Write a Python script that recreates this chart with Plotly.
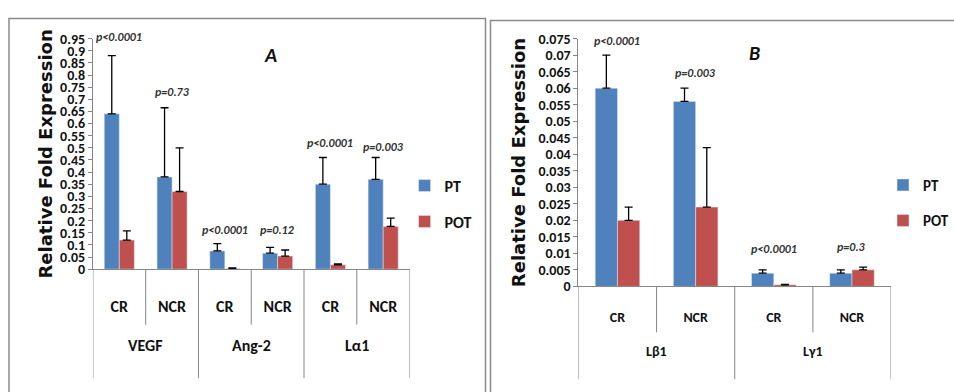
import plotly.graph_objects as go

# ---------------- data ----------------
groups_a = ["VEGF", "VEGF", "Ang-2", "Ang-2", "Lα1", "Lα1"]
subs_a = ["CR", "NCR", "CR", "NCR", "CR", "NCR"]
pt_a = [0.64, 0.38, 0.075, 0.066, 0.35, 0.37]
pt_a_err = [0.24, 0.285, 0.03, 0.024, 0.11, 0.09]
pot_a = [0.12, 0.32, 0.003, 0.054, 0.018, 0.176]
pot_a_err = [0.038, 0.18, 0.002, 0.025, 0.004, 0.034]
pvals_a = ["p<0.0001", "p=0.73", "p<0.0001", "p=0.12", "p<0.0001", "p=0.003"]

groups_b = ["Lβ1", "Lβ1", "Lγ1", "Lγ1"]
subs_b = ["CR", "NCR", "CR", "NCR"]
pt_b = [0.06, 0.056, 0.004, 0.004]
pt_b_err = [0.01, 0.004, 0.001, 0.001]
pot_b = [0.02, 0.024, 0.0005, 0.005]
pot_b_err = [0.004, 0.018, 0.0001, 0.0008]
pvals_b = ["p<0.0001", "p=0.003", "p<0.0001", "p=0.3"]

# layout positions of the p-value labels (in axis units) and extra pixel shifts
plabel_y_a = [0.95, 0.729, 0.162, 0.162, 0.52, 0.505]
plabel_shift_a = [2, 0, 0, 0, 0, 0]
plabel_y_b = [0.0744, 0.0646, 0.0113, 0.0119]

BLUE = "#4F81BD"
RED = "#C0504D"
AXIS = "#868686"
FONT = "Carlito, 'Liberation Sans Narrow', Lato, sans-serif"

cats_a = [f"{g} {s}" for g, s in zip(groups_a, subs_a)]
cats_b = [f"{g} {s}" for g, s in zip(groups_b, subs_b)]

fig = go.Figure()


def err(vals):
    return dict(type="data", array=vals, arrayminus=[0] * len(vals), symmetric=False,
                color="black", thickness=1.3, width=4)


fig.add_trace(go.Bar(x=cats_a, y=pt_a, name="PT", marker_color=BLUE, error_y=err(pt_a_err),
                     xaxis="x", yaxis="y", legend="legend", legendgroup="a1"))
fig.add_trace(go.Bar(x=cats_a, y=pot_a, name="POT", marker_color=RED, error_y=err(pot_a_err),
                     xaxis="x", yaxis="y", legend="legend", legendgroup="a2"))
fig.add_trace(go.Bar(x=cats_b, y=pt_b, name="PT", marker_color=BLUE, error_y=err(pt_b_err),
                     xaxis="x2", yaxis="y2", legend="legend2", legendgroup="b1"))
fig.add_trace(go.Bar(x=cats_b, y=pot_b, name="POT", marker_color=RED, error_y=err(pot_b_err),
                     xaxis="x2", yaxis="y2", legend="legend2", legendgroup="b2"))

W, H = 954, 392


def px_x(v):
    return v / W


def px_y(v):
    return (H - v) / H


ytick_font = dict(family=FONT, size=14, color="#111", weight="bold")
ytitle_font = dict(family="DejaVu Sans", size=18, color="#111", weight="bold")

fig.update_layout(
    width=W, height=H, margin=dict(l=0, r=0, t=0, b=0),
    paper_bgcolor="white", plot_bgcolor="white",
    barmode="group", bargap=0.43, bargroupgap=0,
    xaxis=dict(domain=[px_x(93), px_x(410)], type="category", categoryarray=cats_a,
               tickmode="array", tickvals=cats_a, ticktext=subs_a,
               showline=True, linecolor=AXIS, linewidth=1, ticks="", showgrid=False,
               tickfont=dict(family=FONT, size=16, color="#111", weight="bold"),
               ticklabelstandoff=23, anchor="y", range=[-0.5, 5.5]),
    yaxis=dict(domain=[px_y(273), px_y(32)], range=[0, 0.95], dtick=0.05, tick0=0,
               showline=True, linecolor=AXIS, linewidth=1, ticks="outside", ticklen=4,
               tickcolor=AXIS, showgrid=False, zeroline=False, tickfont=ytick_font,
               title=dict(text="Relative Fold Expression", font=ytitle_font, standoff=2),
               anchor="x"),
    xaxis2=dict(domain=[px_x(579), px_x(892)], type="category", categoryarray=cats_b,
                tickmode="array", tickvals=cats_b, ticktext=subs_b,
                showline=True, linecolor=AXIS, linewidth=1, ticks="", showgrid=False,
                tickfont=dict(family=FONT, size=14, color="#111", weight="bold"),
                ticklabelstandoff=18, anchor="y2", range=[-0.5, 3.5]),
    yaxis2=dict(domain=[px_y(291), px_y(32)], range=[0, 0.075], dtick=0.005, tick0=0,
                showline=True, linecolor=AXIS, linewidth=1, ticks="outside", ticklen=4,
                tickcolor=AXIS, showgrid=False, zeroline=False, tickfont=ytick_font,
                title=dict(text="Relative Fold Expression", font=ytitle_font, standoff=8),
                anchor="x2"),
    legend=dict(x=px_x(405), y=px_y(168), xanchor="left", yanchor="top",
                font=dict(family=FONT, size=16, color="#111", weight="bold"),
                tracegroupgap=12, bgcolor="rgba(0,0,0,0)", itemwidth=30),
    legend2=dict(x=px_x(884), y=px_y(168), xanchor="left", yanchor="top",
                 font=dict(family=FONT, size=15, color="#111", weight="bold"),
                 tracegroupgap=13, bgcolor="rgba(0,0,0,0)", itemwidth=30),
)

shapes = []
# panel borders
shapes.append(dict(type="rect", xref="paper", yref="paper", x0=px_x(9), x1=px_x(486),
                   y0=-0.05, y1=px_y(11), line=dict(color="#8a8a8a", width=1.5)))
shapes.append(dict(type="rect", xref="paper", yref="paper", x0=px_x(491), x1=1.05,
                   y0=-0.05, y1=px_y(13), line=dict(color="#8a8a8a", width=1.5)))

# category dividers panel A
n_a = len(cats_a)
for i in range(n_a + 1):
    b = i - 0.5
    is_group = (i == 0 or i == n_a or groups_a[i] != groups_a[i - 1])
    shapes.append(dict(type="line", xref="x", yref="paper", x0=b, x1=b,
                       y0=px_y(273), y1=px_y(387 if is_group else 331),
                       line=dict(color=AXIS, width=1)))
# category dividers panel B
n_b = len(cats_b)
for i in range(n_b + 1):
    b = i - 0.5
    is_group = (i == 0 or i == n_b or groups_b[i] != groups_b[i - 1])
    shapes.append(dict(type="line", xref="x2", yref="paper", x0=b, x1=b,
                       y0=px_y(291), y1=px_y(388 if is_group else 339),
                       line=dict(color=AXIS, width=1)))
fig.update_layout(shapes=shapes)

ann = []


def group_centers(groups):
    seen = []
    for g in groups:
        if g not in seen:
            seen.append(g)
    out = []
    for g in seen:
        idx = [i for i, gg in enumerate(groups) if gg == g]
        out.append((g, sum(idx) / len(idx)))
    return out


for g, c in group_centers(groups_a):
    ann.append(dict(text=g, x=c, y=px_y(365), xref="x", yref="paper", showarrow=False,
                    font=dict(family=FONT, size=16, color="#111", weight="bold")))
for g, c in group_centers(groups_b):
    ann.append(dict(text=g, x=c, y=px_y(370), xref="x2", yref="paper", showarrow=False,
                    font=dict(family=FONT, size=14, color="#111", weight="bold")))

pfont = dict(family=FONT, size=12, color="#333", weight="bold", style="italic")
for i, t in enumerate(pvals_a):
    ann.append(dict(text=t, x=cats_a[i], y=plabel_y_a[i], yshift=plabel_shift_a[i],
                    xref="x", yref="y", showarrow=False, font=pfont))
for i, t in enumerate(pvals_b):
    ann.append(dict(text=t, x=cats_b[i], y=plabel_y_b[i], xref="x2", yref="y2",
                    showarrow=False, font=pfont))

# panel letters
ann.append(dict(text="A", x=px_x(262), y=px_y(35), xref="paper", yref="paper", showarrow=False,
                font=dict(family=FONT, size=20, color="#111", weight="bold", style="italic")))
ann.append(dict(text="B", x=px_x(763), y=px_y(32), xref="paper", yref="paper", showarrow=False,
                font=dict(family=FONT, size=20, color="#111", weight="bold", style="italic")))
fig.update_layout(annotations=ann)

fig.write_html("out.html", config={"displayModeBar": False},
               post_script="document.body.style.margin='0';document.body.style.overflow='hidden';")
